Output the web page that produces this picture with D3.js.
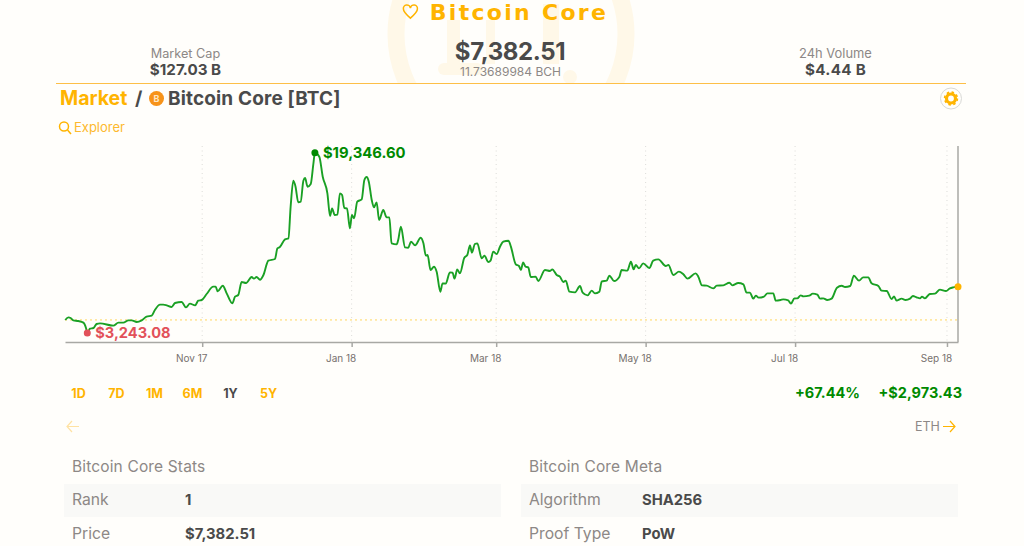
<!DOCTYPE html>
<html lang="en">
  <head>
    <meta charset="utf-8">
    <title>Bitcoin Core</title>
    <script src="https://d3js.org/d3.v7.js"></script>
    <style>
      html, body {
        margin: 0;
        padding: 0;
        background: #fffefb;
        overflow: hidden;
      }
      text {
        font-family: Inter, "Open Sans", sans-serif;
      }
      .axis path, .axis line {
        stroke: #a8a8a4;
        stroke-width: 1.5;
      }
      .axis text {
        fill: #77716e;
        font-size: 10px;
      }
    </style>
  </head>
  <body>
    <script type="text/javascript">
      // price trace: days since the first sample, usd
      var startDate = "2017-09-06";
      var days = [0.1, 1.4, 2.3, 3.4, 5.4, 7.5, 8.6, 9.1, 10.2, 11.6, 12.9, 14.3, 19.7, 21.8, 23.8, 25.9, 27.2, 29.3, 31.3, 33.3, 35.4, 36.7, 38.8, 40.1, 41.5, 43.5, 44.9, 47.6, 49.4, 51, 53.1, 54.4, 55.8, 57.8, 60.5, 61.5, 62.3, 64.4, 66, 68.3, 69.4, 70.7, 72.1, 73.9, 76.2, 77.1, 78.2, 79.6, 81, 83,
        85.7, 86.7, 87.7, 89.8, 91.2, 92.1, 93.2, 94.1, 95.2, 96.2, 97.3, 98, 99, 100.3, 101.4, 102, 103.8, 105.2, 107.1, 108.2, 109, 110.1, 111.2, 112.2, 113.1, 114, 115.1, 116.3, 117.1, 118, 119.3, 121.1, 122.2, 123.1, 124, 125.2, 126.1, 127.2, 128.2, 129.9, 131.3, 132.4, 133.3, 135.4, 136, 137.1, 138.8, 140.1, 141.2, 142.9, 145.2, 146.3, 147.3, 148, 149.2, 150.6, 151.7, 153.2, 154.1, 155.4, 157.1, 158.2, 159, 160.1, 161.2, 163, 164.2, 165.3, 166.1, 167.3, 168.3, 170.1, 171.2, 172.8, 173.7, 174.8, 176.2,
        177.55, 178.9, 181, 182, 184, 185.3, 186.1, 187, 188, 189.1, 190.1, 192.1, 193.2, 195.9, 198, 198.9, 200.7, 202, 203.4, 204.4, 205.9, 208.2, 210.2, 211.3, 213.3, 215, 216.3, 218.1, 219.1, 221.1, 222.2, 224.1, 226.3, 227.2, 229.5, 231, 232.1, 233, 234.3, 236, 238.5, 240.1, 242.2, 245.2, 246.3, 248.3, 250.6, 252.4, 254.1, 257.4, 258.5, 260, 261.9, 264.6, 266, 268.7, 271.2, 272.4, 274.8, 276.9, 278.2, 279.6,
        280.9, 282, 283.1, 285.3, 286.7, 289.1, 290.1, 292.1, 293.2, 295.2, 296.3, 297.7, 298.9, 300.3, 301.4, 303.8, 305.2, 307.1, 308.2, 309.5, 311.1, 312.9, 315.1, 317, 318.4, 320.5, 322, 324.1, 325.8, 327.9, 329.2, 332, 333.3, 335.4, 337.4, 338.4, 339.4, 341.5, 343.1, 344.9, 346.1, 347.6, 349, 349.8, 351, 353, 355.1, 357.1, 359.6, 361.2, 362.6, 364.5];
      var prices = [4404, 4642, 4583, 4374, 4315, 4166, 3660, 3243.08, 3630, 3690, 4047, 4106, 3898, 4166, 4166, 4374, 4374, 4225, 4374, 4702, 4791, 5297, 5773, 5773, 5714, 5565, 5922, 6012, 5535, 5863, 5714, 6131, 6190, 6726, 7381, 7381, 6964, 7470, 6786, 5893, 6488, 6637, 7798, 7709, 8244, 8096, 8244, 8006, 8423, 9703,
        9852, 10805, 10924, 11608, 11698, 14526, 16848, 16312, 14913, 14972, 16848, 17086, 16312, 16550, 18396, 19346.6, 18991, 17205, 15717, 13692, 14377, 13782, 13811, 15717, 15568, 14407, 14377, 12591, 13782, 13484, 14972, 15181, 16907, 17175, 16759, 15121, 14466, 14913, 13335, 14228, 13573, 13573, 11251, 11162, 11549, 12740, 10894, 10864, 11400, 11073, 11757, 11251, 10150, 10209, 8870, 9167, 8721, 6934, 7679, 7649, 8661, 8631, 8096, 8929, 8572, 9971, 10209, 11073, 10418, 11192, 11251, 9911, 10150, 9584, 9703, 10507, 10298,
        10953, 11400, 11489, 10953, 9376, 9227, 8870, 9554, 9167, 9108, 8244, 8274, 7887, 8870, 8780, 8929, 8423, 8274, 7798, 7917, 6934, 6875, 7441, 6845, 6607, 7024, 6786, 6934, 7857, 7917, 8363, 7887, 8274, 8870, 8810, 9614, 8929, 9316, 9018, 9465, 9048, 9703, 9822, 9227, 9316, 8423, 8721, 8483, 8096, 8572, 8274, 7500, 7470, 7232, 7470, 7500, 7738, 7500, 7709, 7589, 6845, 6845,
        6309, 6577, 6399, 6488, 6786, 6786, 6131, 6190, 6250, 6160, 5863, 6339, 6339, 6607, 6518, 6577, 6756, 6667, 6309, 6339, 6190, 6309, 7292, 7470, 7351, 7441, 8363, 7917, 8215, 8215, 7679, 7441, 7024, 6994, 6280, 6518, 6131, 6309, 6190, 6309, 6547, 6428, 6339, 6488, 6339, 6726, 6756, 7113, 6994, 7232, 7321, 7382.51];
      var tickMonths = ["2017-11-01", "2018-01-01", "2018-03-01", "2018-05-01", "2018-07-01", "2018-09-01"];
      var highPrice = 19346.60;
      var lowPrice = 3243.08;
      var lastPrice = 7382.51;
      var openPrice = 4409.08;

      var ranges = ["1D", "7D", "1M", "6M", "1Y", "5Y"];
      var statLabels = ["Rank", "Price"];
      var statValues = ["1", "$7,382.51"];
      var metaLabels = ["Algorithm", "Proof Type"];
      var metaValues = ["SHA256", "PoW"];

      //Width and height
      var w = 1024;
      var h = 546;
      var orange = "#ffb400";
      var dark = "#4a4a4a";
      var grey = "#8d8886";
      var green = "#008a00";
      var lineGreen = "#1aa024";
      var red = "#e2515a";
      var faint = "#fff8e8";
      var parseTime = d3.utcParse("%Y-%m-%d");
      var start = parseTime(startDate);

      var data = days.map(function(d, i) {
        return {date: new Date(+start + d * 864e5), price: prices[i]};
      });

      var xScale = d3.scaleUtc()
          .domain([start, new Date(+start + 364.5 * 864e5)])
          .range([65, 958]);

      var yScale = d3.scaleLinear()
          .domain([2439, 19946])
          .range([342, 146]);

      var svg = d3.select("body")
          .append("svg")
          .attr("width", w)
          .attr("height", h)
          .style("display", "block");

      // watermark behind the header
      svg.append("clipPath").attr("id", "head")
        .append("rect").attr("width", w).attr("height", 83);
      var mark = svg.append("g").attr("clip-path", "url(#head)");
      mark.append("circle")
        .attr("cx", 511).attr("cy", 34).attr("r", 115)
        .attr("fill", "none").attr("stroke", faint).attr("stroke-width", 17);
      mark.append("rect").attr("x", 447).attr("y", 20).attr("width", 13).attr("height", 50).attr("fill", faint);
      mark.append("rect").attr("x", 486).attr("y", 20).attr("width", 9).attr("height", 44).attr("fill", faint);
      mark.append("rect").attr("x", 543).attr("y", 4).attr("width", 16).attr("height", 60).attr("fill", faint);
      mark.append("rect").attr("x", 438).attr("y", 63).attr("width", 45).attr("height", 12).attr("rx", 6).attr("fill", faint);
      mark.append("circle").attr("cx", 570).attr("cy", 77).attr("r", 7).attr("fill", faint);

      function label(x, y, str, size, weight, fill, anchor, spacing) {
        return svg.append("text")
          .attr("x", x).attr("y", y)
          .attr("font-size", size).attr("font-weight", weight)
          .attr("fill", fill).attr("text-anchor", anchor || "start")
          .attr("letter-spacing", spacing || 0)
          .text(str);
      }

      // header
      label(519, 20.4, "Bitcoin Core", 22, 700, orange, "middle", 2.3)
        .style("font-family", "'DejaVu Sans'");
      svg.append("path")
        .attr("transform", "translate(402,3.5) scale(0.7)")
        .attr("d", "M12 21C5 15 2 12 2 8a5 5 0 0 1 10-1.5A5 5 0 0 1 22 8c0 4-3 7-10 13z")
        .attr("fill", "none").attr("stroke", orange).attr("stroke-width", 2.2);
      label(510, 60, "$7,382.51", 24, 700, dark, "middle", -0.4);
      label(510.5, 76, "11.73689984 BCH", 12, 400, grey, "middle");
      label(185.5, 58, "Market Cap", 12.7, 400, grey, "middle");
      label(185.5, 75, "$127.03 B", 15.2, 700, dark, "middle");
      label(835.5, 58, "24h Volume", 12.9, 400, grey, "middle");
      label(835.5, 75, "$4.44 B", 15.2, 700, dark, "middle", 0.3);
      svg.append("line")
        .attr("x1", 56).attr("x2", 966).attr("y1", 83.5).attr("y2", 83.5)
        .attr("stroke", "#fdbf47").attr("stroke-width", 1);

      // breadcrumb
      label(60, 105, "Market", 19.5, 700, orange);
      label(135, 105, "/", 19, 700, dark);
      svg.append("circle").attr("cx", 156.5).attr("cy", 98.5).attr("r", 7.5).attr("fill", "#f7931a");
      label(156.5, 102, "B", 9, 700, "#ffe6c4", "middle");
      label(168, 105, "Bitcoin Core [BTC]", 19, 700, dark, "start", 0.15);

      // settings gear
      svg.append("circle").attr("cx", 951).attr("cy", 98.5).attr("r", 10.5)
        .attr("fill", "none").attr("stroke", "#d9d9d6");
      svg.append("circle").attr("cx", 951).attr("cy", 98.5).attr("r", 4.5)
        .attr("fill", "none").attr("stroke", orange).attr("stroke-width", 3.2);
      svg.append("circle").attr("cx", 951).attr("cy", 98.5).attr("r", 6.4)
        .attr("fill", "none").attr("stroke", orange).attr("stroke-width", 1.6)
        .attr("stroke-dasharray", "2.5 2.5");

      svg.append("circle").attr("cx", 64).attr("cy", 126.5).attr("r", 4.5)
        .attr("fill", "none").attr("stroke", orange).attr("stroke-width", 1.5);
      svg.append("path").attr("d", "M67.5 130 L71 134").attr("stroke", orange).attr("stroke-width", 1.5);
      label(74, 132, "Explorer", 13, 400, "#fdb92e");

      // vertical dotted gridlines
      svg.append("g").selectAll("line")
        .data(tickMonths)
        .enter().append("line")
        .attr("x1", d => xScale(parseTime(d)))
        .attr("x2", d => xScale(parseTime(d)))
        .attr("y1", 146).attr("y2", 342)
        .attr("stroke", "#dcdcd8").attr("stroke-dasharray", "1 3.5");

      // opening price line
      svg.append("line")
        .attr("x1", 65).attr("x2", 958)
        .attr("y1", yScale(openPrice)).attr("y2", yScale(openPrice))
        .attr("stroke", "#ffd75e").attr("stroke-width", 1).attr("stroke-dasharray", "2 3");

      var xAxis = d3.axisBottom(xScale)
          .tickValues(tickMonths.map(parseTime))
          .tickFormat(d3.utcFormat("%b %y"))
          .tickSize(5)
          .tickSizeOuter(0);

      var gx = svg.append("g")
          .attr("class", "axis")
          .attr("transform", "translate(0,342)")
          .call(xAxis);
      gx.selectAll("text").attr("dx", -11).attr("dy", "1.2em");

      svg.append("line")
        .attr("x1", 958).attr("x2", 958).attr("y1", 146).attr("y2", 342)
        .attr("stroke", "#a8a8a4").attr("stroke-width", 1.5);

      // price line
      var line = d3.line()
          .x(d => xScale(d.date))
          .y(d => yScale(d.price))
          .curve(d3.curveMonotoneX);

      svg.append("path")
        .datum(data)
        .attr("d", line)
        .attr("fill", "none")
        .attr("stroke", lineGreen)
        .attr("stroke-width", 1.9);

      // high, low and last markers
      var highPoint = data[prices.indexOf(highPrice)];
      var lowPoint = data[prices.indexOf(lowPrice)];
      svg.append("circle")
        .attr("cx", xScale(highPoint.date)).attr("cy", yScale(highPrice)).attr("r", 3.5).attr("fill", green);
      label(xScale(highPoint.date) + 8, yScale(highPrice) + 5, d3.format("$,.2f")(highPrice), 14.8, 700, green);
      svg.append("circle")
        .attr("cx", xScale(lowPoint.date)).attr("cy", yScale(lowPrice)).attr("r", 3.5).attr("fill", red);
      label(xScale(lowPoint.date) + 8, yScale(lowPrice) + 5, d3.format("$,.2f")(lowPrice), 14.6, 700, red);
      svg.append("circle")
        .attr("cx", 958).attr("cy", yScale(lastPrice)).attr("r", 3.5).attr("fill", orange);

      // range buttons
      ranges.forEach(function(r, i) {
        label(78.5 + i * 38, 398, r, 12.5, 700, r == "1Y" ? dark : orange, "middle");
      });
      label(860, 398, "+67.44%", 14.5, 700, green, "end");
      label(962, 398, "+$2,973.43", 14.5, 700, green, "end");

      // previous and next arrows
      svg.append("path").attr("d", "M79 426.5 H67 M72 421 L67 426.5 L72 432")
        .attr("fill", "none").attr("stroke", "#ffe2a3").attr("stroke-width", 1.2);
      label(915, 431, "ETH", 12.5, 400, grey);
      svg.append("path").attr("d", "M943 426.5 H955 M950 421 L955 426.5 L950 432")
        .attr("fill", "none").attr("stroke", orange).attr("stroke-width", 1.2);

      // stat tables
      function table(x, title, labels, values) {
        label(x + 8, 472, title, 15.5, 400, grey, "start", 0.15);
        svg.append("rect").attr("x", x).attr("y", 484).attr("width", 437).attr("height", 33).attr("fill", "#f9f9f7");
        labels.forEach(function(l, i) {
          label(x + 8, 505 + i * 33.5, l, 15.7, 400, grey);
          label(x + 121, 505 + i * 33.5, values[i], 14.8, 700, dark);
        });
      }
      table(64, "Bitcoin Core Stats", statLabels, statValues);
      table(521, "Bitcoin Core Meta", metaLabels, metaValues);
    </script>
  </body>
</html>
